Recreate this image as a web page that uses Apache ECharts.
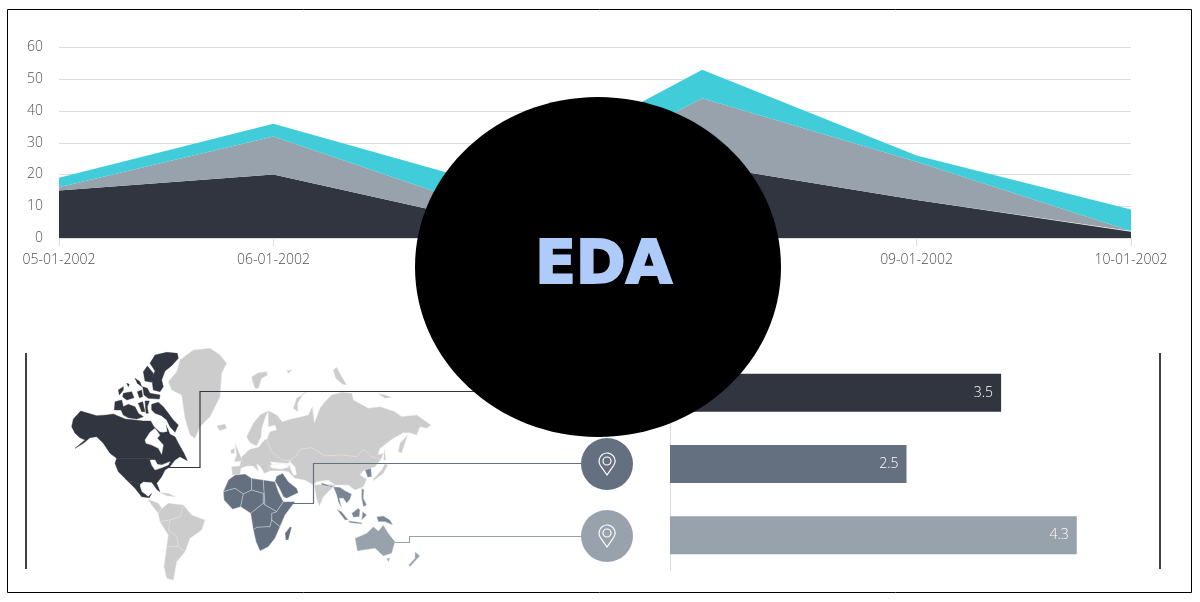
<!DOCTYPE html>
<html>
<head>
<meta charset="utf-8">
<style>
  html, body { margin: 0; padding: 0; background: #fff; }
  #chart { width: 1200px; height: 602px; }
</style>
<script src="https://cdn.jsdelivr.net/npm/echarts@6/dist/echarts.min.js"></script>
</head>
<body>
<div id="chart"></div>
<script>
// area chart values (stacked increments)
const dates = ['05-01-2002', '06-01-2002', '07-01-2002', '08-01-2002', '09-01-2002', '10-01-2002'];
const seriesDark = [15, 20, 5, 23, 12, 2];
const seriesGray = [1, 12, 4, 21, 12, 0.2];
const seriesCyan = [3, 4, 8, 9, 2, 6.8];

// bar chart values
const barNames = ['North America', 'Africa & Asia', 'Australia'];
const barValues = [3.5, 2.5, 4.3];

const DARK = '#31353f';
const MID = '#646f80';
const SOFT = '#7a8695';
const LIGHT = '#98a2ac';
const CYAN = '#40ccd9';
const LAND = '#cccccc';
const SEA = '#ffffff';
const FONT = '"Open Sans", sans-serif';

// outlines traced by hand from three crops of the map, each with its own offset
const shift = (pts, dx, dy) => pts.map(p => [p[0] + dx, p[1] + dy]);
const na = pts => shift(pts, 120, 15);
const eu = pts => shift(pts, 615, 60);
const so = pts => shift(pts, 600, 390);

const land = [
  // north america
  ['Ellesmere', DARK, na([[270,55],[285,30],[320,22],[352,25],[355,40],[335,62],[315,78],[305,105],[310,125],[300,140],[280,135],[275,100],[285,78]])],
  ['Devon', DARK, na([[262,63],[280,85],[275,112],[255,108],[250,80]])],
  ['Isle 1', DARK, na([[175,135],[190,125],[190,135],[178,150]])],
  ['Isle 2', DARK, na([[190,145],[215,140],[222,158],[200,165],[188,155]])],
  ['Isle 3', DARK, na([[200,115],[208,118],[205,125]])],
  ['Isle 4', DARK, na([[225,100],[240,110],[245,125],[232,115]])],
  ['Isle 5', DARK, na([[232,140],[245,135],[248,155],[238,158]])],
  ['Isle 6', DARK, na([[248,125],[262,130],[270,145],[300,150],[298,162],[265,160],[252,150]])],
  ['Victoria', DARK, na([[165,170],[185,165],[190,185],[205,178],[225,185],[235,205],[250,215],[230,222],[205,218],[190,210],[183,195],[163,195]])],
  ['Isle 7', DARK, na([[235,175],[248,170],[255,200],[245,200]])],
  ['Isle 8', DARK, na([[255,168],[268,168],[262,185],[265,205],[258,205]])],
  ['Baffin', DARK, na([[275,178],[295,172],[310,185],[325,205],[340,225],[355,240],[345,262],[330,245],[320,225],[305,212],[285,205],[275,195]])],
  ['Canada', DARK, na([[40,222],[62,198],[85,205],[110,212],[140,210],[160,207],[195,222],[225,225],[250,228],[272,228],[282,245],[300,262],[312,262],[322,260],[318,240],[330,268],[345,275],[355,295],[372,325],[382,347],[360,335],[345,345],[335,358],[330,350],[305,358],[290,345],[262,340],[170,340],[150,325],[130,295],[110,275],[90,278],[70,295],[45,310],[75,285],[60,278],[45,265],[35,245]])],
  ['USA', DARK, na([[170,340],[262,340],[290,345],[305,358],[330,350],[335,358],[330,365],[315,375],[305,395],[290,415],[300,440],[292,435],[275,412],[250,410],[240,418],[225,412],[205,408],[195,400],[175,380],[165,355]])],
  ['Mexico', DARK, na([[195,400],[205,408],[225,412],[240,418],[240,425],[245,440],[265,455],[275,445],[268,458],[245,455],[225,430],[205,410]])],
  ['Hudson Bay', SEA, na([[255,285],[270,262],[285,250],[300,270],[292,280],[310,300],[305,328],[295,310],[275,300],[258,295]])],
  ['Foxe Basin', SEA, na([[285,235],[300,222],[318,240],[320,258],[308,262],[302,250],[290,250]])],
  ['Great Lakes', SEA, na([[270,345],[285,345],[292,358],[305,360],[330,350],[325,360],[305,368],[285,375],[275,360]])],
  ['Greenland', LAND, [[445,125],[470,95],[480,60],[520,30],[570,25],[600,45],[620,70],[605,100],[600,170],[570,230],[540,260],[525,295],[510,285],[495,235],[485,165],[455,150]]],
  ['Iceland', LAND, [[590,258],[615,252],[620,265],[600,272]]],
  ['Cuba', LAND, [[420,458],[445,460],[465,470],[440,467]]],
  // south america
  ['Central America', LAND, [[385,478],[415,490],[425,505],[420,510],[415,520],[395,495]]],
  ['Colombia', LAND, [[415,520],[420,510],[445,490],[490,495],[480,530],[450,540],[420,545]]],
  ['Brazil', LAND, [[490,495],[515,525],[555,540],[545,570],[510,595],[495,635],[475,620],[470,590],[445,570],[450,540],[480,530]]],
  ['Peru', LAND, [[420,545],[450,540],[445,570],[470,590],[475,620],[440,620],[445,585]]],
  ['Argentina', LAND, [[440,620],[475,620],[495,635],[470,665],[460,720],[440,715],[432,680]]],
  // eurasia
  ['Svalbard', LAND, eu([[80,50],[100,38],[125,35],[128,45],[110,55],[100,85],[90,85],[83,65]])],
  ['Franz Josef', LAND, eu([[185,32],[200,30],[190,40]])],
  ['Severny', LAND, eu([[325,30],[335,22],[350,50],[365,75],[352,72],[332,55]])],
  ['Novaya Zemlya', LAND, eu([[205,145],[215,115],[245,97],[235,100],[218,130],[218,155]])],
  ['Severnaya', LAND, eu([[460,102],[480,105],[500,112],[480,115]])],
  ['Scandinavia', LAND, eu([[65,230],[85,190],[105,165],[130,152],[120,175],[110,205],[108,230],[95,258],[75,248]])],
  ['Russia', LAND, eu([[130,152],[155,165],[172,185],[195,178],[230,170],[250,165],[262,140],[268,190],[285,145],[300,125],[320,105],[350,97],[380,100],[385,120],[430,145],[465,140],[510,155],[530,170],[575,165],[618,195],[605,205],[585,200],[575,225],[555,218],[535,218],[505,235],[465,265],[458,285],[475,280],[468,298],[440,290],[415,268],[395,290],[350,285],[300,288],[260,263],[225,268],[215,285],[195,302],[170,300],[140,275],[125,240],[135,215],[155,210],[150,195],[130,200]])],
  ['Kamchatka', LAND, eu([[520,275],[525,250],[548,225],[540,248],[530,278]])],
  ['Sakhalin', LAND, eu([[478,268],[482,300],[476,300]])],
  ['Europe', LAND, eu([[120,238],[125,240],[140,275],[170,300],[195,302],[190,310],[165,308],[135,305],[150,325],[130,335],[118,340],[105,318],[95,312],[100,335],[85,318],[65,318],[48,325],[45,342],[22,345],[20,320],[45,318],[50,290],[75,268],[100,262]])],
  ['Asia', LAND, [[810,362],[830,345],[840,328],[875,323],[915,348],[965,345],[1010,350],[1030,328],[1055,350],[1083,358],[1065,380],[1030,392],[1020,405],[1040,418],[1030,440],[1005,450],[985,435],[945,435],[925,420],[890,425],[880,435],[855,420],[825,415],[805,395],[790,392],[750,392],[745,378],[795,378],[815,375]]],
  ['India', LAND, so([[283,45],[320,42],[345,45],[332,58],[310,80],[298,108],[290,85]])],
  ['Britain', LAND, eu([[30,250],[45,285],[52,303],[28,305],[35,285]])],
  ['Ireland', LAND, eu([[18,270],[28,265],[28,280],[18,280]])],
  ['Japan', LAND, eu([[445,358],[470,330],[480,312],[488,315],[475,340],[445,362]])],
  ['Black Sea', SEA, [[750,375],[790,370],[810,380],[785,388],[755,385]]],
  ['Caspian', SEA, eu([[195,305],[210,320],[215,345],[205,345],[195,325]])],
  // asia highlighted
  ['Korea', SOFT, eu([[420,330],[438,325],[440,350],[428,352]])],
  ['Himalaya', SOFT, so([[305,38],[330,48],[340,48],[335,52],[305,45]])],
  ['Indochina', SOFT, so([[340,50],[360,52],[375,62],[395,72],[390,88],[380,100],[370,85],[358,85],[365,115],[355,95],[350,75]])],
  ['Sumatra', SOFT, so([[350,118],[365,125],[385,150],[375,150]])],
  ['Java', SOFT, so([[385,152],[425,158],[425,162],[390,158]])],
  ['Borneo', SOFT, so([[395,130],[415,115],[420,120],[418,140],[400,142]])],
  ['Sulawesi', SOFT, so([[428,125],[440,135],[425,150]])],
  ['Philippines', SOFT, so([[425,55],[432,60],[430,85],[440,105],[430,110],[425,85]])],
  ['New Guinea', SOFT, so([[470,140],[490,138],[510,150],[518,165],[495,155],[475,155]])],
  // africa
  ['Arabia', MID, so([[165,33],[170,18],[188,10],[205,35],[230,55],[235,68],[200,85],[190,80],[178,55]])],
  ['Algeria', MID, so([[25,30],[45,15],[75,12],[95,25],[95,60],[70,72],[45,55],[10,65]])],
  ['West Africa', MID, so([[10,65],[45,55],[70,72],[62,110],[38,118],[12,90]])],
  ['Niger', MID, so([[70,72],[95,60],[130,70],[130,100],[92,130],[62,110]])],
  ['Libya', MID, so([[95,25],[130,30],[135,105],[130,100],[130,70],[95,60]])],
  ['Sudan', MID, so([[130,30],[165,35],[175,65],[190,95],[170,125],[135,105]])],
  ['Horn', MID, so([[190,95],[225,95],[195,135],[180,170],[155,150],[155,130],[170,125]])],
  ['Congo', MID, so([[92,130],[130,100],[135,105],[170,125],[155,130],[155,150],[150,170],[110,172],[100,180]])],
  ['South Africa', MID, so([[100,180],[110,172],[150,170],[155,150],[180,170],[165,205],[145,230],[120,243],[108,215]])],
  ['Madagascar', MID, so([[195,190],[210,170],[215,172],[205,210],[197,210]])],
  // oceania
  ['Australia', LIGHT, so([[405,205],[440,190],[460,170],[475,183],[490,165],[505,190],[525,215],[515,250],[490,258],[465,235],[430,240],[412,243]])],
  ['Tasmania', LIGHT, so([[500,265],[510,265],[505,275]])],
  ['New Zealand', LIGHT, so([[585,245],[600,258],[590,268],[570,290],[566,285],[585,265]])]
];

const worldGeo = {
  type: 'FeatureCollection',
  features: land.map(([name, , pts]) => ({
    type: 'Feature',
    properties: { name: name },
    geometry: { type: 'Polygon', coordinates: [pts.map(p => [p[0], -p[1]])] }
  }))
};
echarts.registerMap('sketchWorld', worldGeo);

// location pin icon made of an arc, two straight sides and a small ring
const pinElements = (cx, cy) => {
  const stroke = { fill: 'none', stroke: '#fff', lineWidth: 1.2 };
  const r = 8;
  const a1 = 35 * Math.PI / 180;
  const a2 = 145 * Math.PI / 180;
  return [
    { type: 'arc', z: 52, shape: { cx: cx, cy: cy, r: r, startAngle: a2, endAngle: a1 + Math.PI * 2, clockwise: true }, style: stroke },
    {
      type: 'polyline', z: 52,
      shape: { points: [[cx + r * Math.cos(a2), cy + r * Math.sin(a2)], [cx, cy + 14], [cx + r * Math.cos(a1), cy + r * Math.sin(a1)]] },
      style: stroke
    },
    { type: 'circle', z: 52, shape: { cx: cx, cy: cy, r: 4 }, style: stroke }
  ];
};

const getOptions = () => {
  return {
    animation: false,
    backgroundColor: '#fff',
    textStyle: { fontFamily: FONT },
    grid: [
      { left: 59, right: 69, top: 47.5, bottom: 364 },
      { left: 670, top: 357, width: 473, height: 214 }
    ],
    xAxis: [
      {
        type: 'category',
        gridIndex: 0,
        data: dates,
        boundaryGap: false,
        axisLine: { lineStyle: { color: '#ddd' } },
        axisTick: { length: 8, lineStyle: { color: '#ddd' } },
        axisLabel: { interval: 0, margin: 15, fontSize: 14, fontWeight: 300, color: '#4f4f4f', fontFamily: FONT }
      },
      { type: 'value', gridIndex: 1, min: 0, max: 5, show: false }
    ],
    yAxis: [
      {
        type: 'value',
        gridIndex: 0,
        min: 0,
        max: 60,
        interval: 10,
        axisLine: { show: false },
        axisTick: { show: false },
        splitLine: { lineStyle: { color: '#dcdcdc' } },
        axisLabel: { margin: 16, fontSize: 14, fontWeight: 300, color: '#4f4f4f', fontFamily: FONT }
      },
      {
        type: 'category',
        gridIndex: 1,
        inverse: true,
        data: barNames,
        axisLine: { lineStyle: { color: '#dddddd' } },
        axisTick: { show: false },
        axisLabel: { show: false }
      }
    ],
    series: [
      {
        name: 'Dark', type: 'line', stack: 'total', data: seriesDark, showSymbol: false,
        lineStyle: { width: 0 }, areaStyle: { color: DARK, opacity: 1 }
      },
      {
        name: 'Gray', type: 'line', stack: 'total', data: seriesGray, showSymbol: false,
        lineStyle: { width: 0 }, areaStyle: { color: LIGHT, opacity: 1 }
      },
      {
        name: 'Cyan', type: 'line', stack: 'total', data: seriesCyan, showSymbol: false,
        lineStyle: { width: 0 }, areaStyle: { color: CYAN, opacity: 1 }
      },
      {
        name: 'Bars',
        type: 'bar',
        xAxisIndex: 1,
        yAxisIndex: 1,
        barWidth: 38,
        data: barValues.map((v, i) => ({ value: v, itemStyle: { color: [DARK, MID, LIGHT][i] } })),
        label: {
          show: true,
          position: 'insideRight',
          distance: 8,
          color: '#fff',
          fontSize: 14,
          fontWeight: 300,
          fontFamily: FONT
        }
      },
      {
        type: 'map',
        map: 'sketchWorld',
        silent: true,
        aspectScale: 1,
        boundingCoords: [[0, 0], [1320, -750]],
        left: 20,
        top: 340,
        width: 440,
        height: 250,
        label: { show: false },
        itemStyle: { areaColor: LAND, borderColor: '#e8e8e8', borderWidth: 0.4 },
        data: land.map(([name, color]) => ({
          name: name,
          itemStyle: { areaColor: color, borderColor: color === DARK ? DARK : '#dfe3e8' }
        }))
      }
    ],
    graphic: {
      elements: [
        { type: 'rect', z: 50, shape: { x: 7.5, y: 9.5, width: 1184, height: 583 }, style: { fill: 'none', stroke: '#000', lineWidth: 1 } },
        { type: 'line', z: 50, shape: { x1: 26, y1: 353, x2: 26, y2: 569 }, style: { stroke: '#000', lineWidth: 1.5 } },
        { type: 'line', z: 50, shape: { x1: 1160, y1: 353, x2: 1160, y2: 569 }, style: { stroke: '#000', lineWidth: 1.5 } },
        // connectors from the map to the pins
        { type: 'polyline', z: 50, shape: { points: [[166, 467.5], [200, 467.5], [200, 391.5], [560, 391.5]] }, style: { fill: 'none', stroke: DARK, lineWidth: 1.2 } },
        { type: 'polyline', z: 50, shape: { points: [[292, 503.5], [313.5, 503.5], [313.5, 463.5], [585, 463.5]] }, style: { fill: 'none', stroke: MID, lineWidth: 1.2 } },
        { type: 'polyline', z: 50, shape: { points: [[395, 542.5], [409.5, 542.5], [409.5, 536.5], [585, 536.5]] }, style: { fill: 'none', stroke: LIGHT, lineWidth: 1.2 } },
        // pin badges
        { type: 'circle', z: 51, shape: { cx: 607, cy: 464, r: 26 }, style: { fill: MID } },
        { type: 'circle', z: 51, shape: { cx: 607, cy: 536, r: 26 }, style: { fill: LIGHT } },
        ...pinElements(607, 461),
        ...pinElements(607, 533),
        // big badge over everything
        { type: 'ellipse', z: 60, shape: { cx: 598, cy: 267, rx: 183, ry: 170 }, style: { fill: '#000' } },
        {
          type: 'text', z: 61, x: 603.5, y: 267,
          style: {
            text: 'EDA', fill: '#aecbf9', stroke: '#aecbf9', lineWidth: 2,
            font: 'bold 60px "DejaVu Sans", sans-serif', textAlign: 'center', textVerticalAlign: 'middle'
          }
        }
      ]
    }
  };
};

const initCharts = () => {
  const chart = echarts.init(document.getElementById('chart'));
  chart.setOption(getOptions());
};

window.addEventListener('load', () => {
  initCharts();
});
</script>
</body>
</html>
